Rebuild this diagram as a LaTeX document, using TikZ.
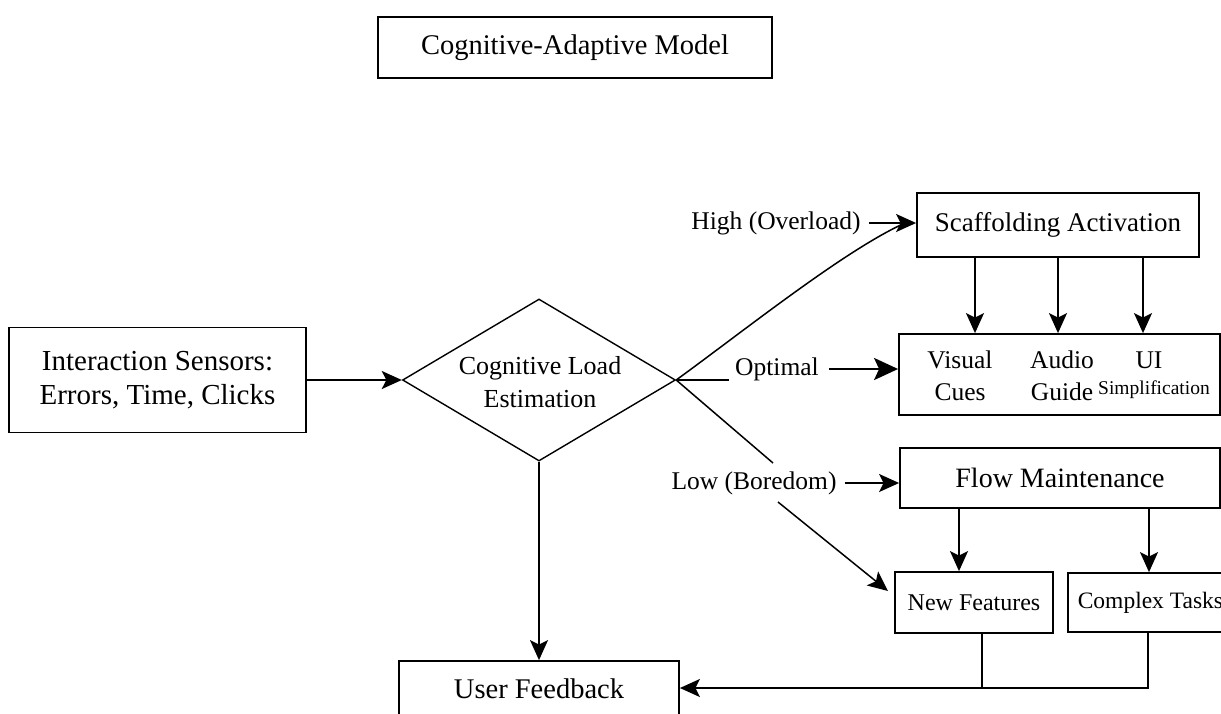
\documentclass[tikz,border=0pt]{standalone}
\usepackage{fontspec}
\setmainfont{Liberation Serif}
\usetikzlibrary{shapes.geometric,arrows.meta}
\begin{document}
\begin{tikzpicture}[x=1pt,y=-1pt,
  box/.style={draw, line width=1.8pt, rectangle, inner sep=0pt, align=center},
  conn/.style={line width=1.8pt},
  arr/.style={conn, -{Stealth[length=20pt,width=18pt,inset=4.5pt]}},
  bigarr/.style={line width=2.6pt, -{Stealth[length=24pt,width=22pt,inset=5pt]}},
  lbl/.style={inner sep=0pt, font=\fontsize{25.5}{30}\selectfont}
]
\clip (0,0) rectangle (1221,713);
\fill[white] (0,0) rectangle (1221,713);

% nodes
\node[box, minimum width=394pt, minimum height=61pt, font=\fontsize{28.5}{34}\selectfont] (title) at (575,47.5) {Cognitive-Adaptive Model};

\node[box, minimum width=297pt, minimum height=105pt, font=\fontsize{29}{34}\selectfont] (sens) at (157.5,380) {Interaction Sensors:\\Errors, Time, Clicks};

\node[draw, diamond, line width=1.4pt, minimum width=273pt, minimum height=162pt, inner sep=0pt] (est) at (539,380) {};
\node[inner sep=0pt, align=center, font=\fontsize{26}{33}\selectfont] (estt) at (540,382) {Cognitive Load\\Estimation};

\node[box, minimum width=282pt, minimum height=64pt, font=\fontsize{27}{32}\selectfont] (scaf) at (1058,225) {Scaffolding Activation};

\node[box, minimum width=321pt, minimum height=81pt] (cues) at (1059.5,374.5) {};
\node[inner sep=0pt, align=center, font=\fontsize{25.5}{32}\selectfont] (vis) at (960,376) {Visual\\Cues};
\node[inner sep=0pt, align=center, font=\fontsize{25.5}{32}\selectfont] (aud) at (1062,376) {Audio\\Guide};
\node[inner sep=0pt, anchor=base, font=\fontsize{25.5}{30}\selectfont] (ui) at (1149,368) {UI};
\node[inner sep=0pt, anchor=base, font=\fontsize{19.5}{22}\selectfont] (simp) at (1154,394) {Simplification};

\node[box, minimum width=320pt, minimum height=60pt, font=\fontsize{28}{34}\selectfont] (flow) at (1060,478) {Flow Maintenance};

\node[box, minimum width=158pt, minimum height=61pt, font=\fontsize{24}{28}\selectfont] (newf) at (974,602.5) {New Features};

\node[box, anchor=west, minimum width=165pt, minimum height=59pt, font=\fontsize{23.5}{28}\selectfont] (cplx) at (1067,602.5) {Complex Tasks};

\node[box, minimum width=280pt, minimum height=56pt, font=\fontsize{28.5}{34}\selectfont] (fb) at (539,689) {User Feedback};

% labels
\node[lbl] (hl) at (776,223) {High (Overload)};
\node[lbl] (opt) at (777,369) {Optimal};
\node[lbl] (low) at (754,483) {Low (Boredom)};

\coordinate (hiend) at (905,223);
\coordinate (lowtop) at (773,463);
\coordinate (lowbot) at (778,502);
\coordinate (nfin) at (888,591);
\coordinate (j1) at (982,688);

% connectors
\draw[arr] (sens.east) -- (est.west);
\draw[arr] (est.south) -- (est.south |- fb.north);

\draw[conn, line width=1.5pt] (est.east) .. controls (745,330) and (845,250) .. (hiend);
\draw[arr] ([xshift=8pt]hl.east) -- (scaf.west |- hl.east);

\draw[conn, line width=1.5pt] (est.east) -- ([xshift=-6pt]est.east -| opt.west);
\draw[bigarr] ([xshift=10pt]opt.east) -- (cues.west |- opt.east);

\draw[conn, line width=1.5pt] (est.east) -- (lowtop);
\draw[arr] ([xshift=8pt]low.east) -- (flow.west |- low.east);
\draw[arr, line width=1.5pt] (lowbot) -- (nfin);

\draw[arr] ([xshift=-83pt]scaf.south) -- ([xshift=-83pt]scaf.south |- cues.north);
\draw[arr] (scaf.south) -- (scaf.south |- cues.north);
\draw[arr] ([xshift=85pt]scaf.south) -- ([xshift=85pt]scaf.south |- cues.north);

\draw[arr] ([xshift=-101pt]flow.south) -- ([xshift=-101pt]flow.south |- newf.north);
\draw[arr] ([xshift=89pt]flow.south) -- ([xshift=89pt]flow.south |- cplx.north);

\draw[conn] (newf.south -| j1) -- (j1);
\draw[arr] ([xshift=-2.5pt]cplx.south) -- ([xshift=-2.5pt]cplx.south |- j1) -- (fb.east |- j1);
\end{tikzpicture}
\end{document}
